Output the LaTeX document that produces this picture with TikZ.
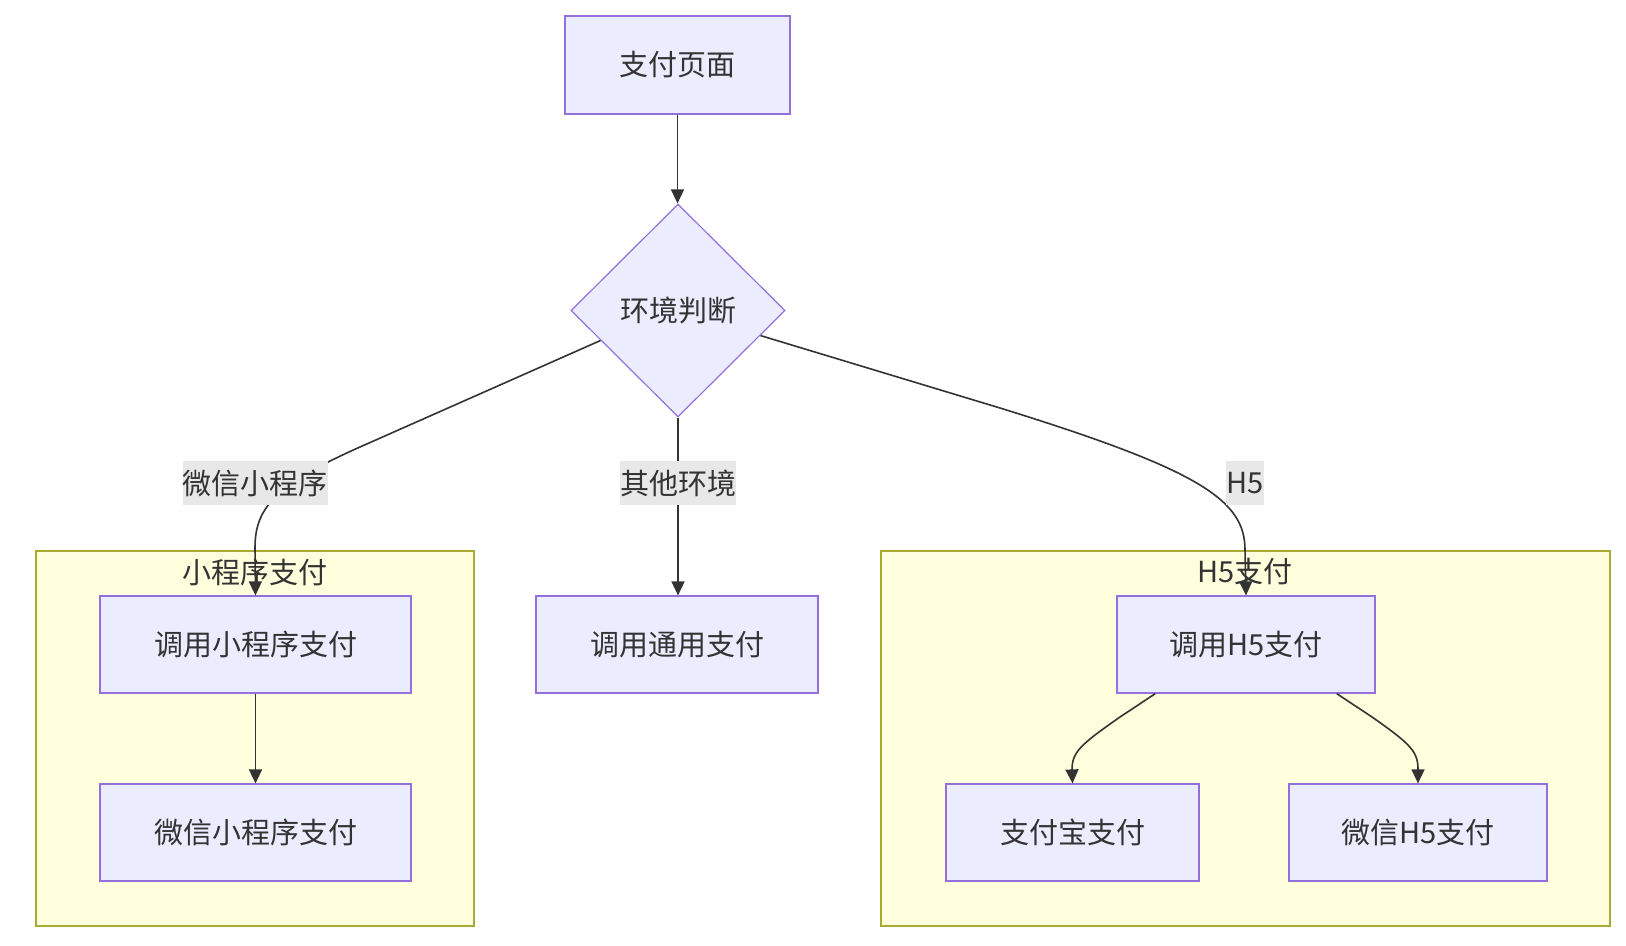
\documentclass[tikz,border=0pt]{standalone}
\usepackage{fontspec}
\setmainfont{Noto Sans CJK SC}
\usetikzlibrary{shapes.geometric,arrows.meta,calc}
\definecolor{nodefill}{HTML}{ECECFF}
\definecolor{nodeline}{HTML}{9370DB}
\definecolor{clfill}{HTML}{FFFFDE}
\definecolor{clline}{HTML}{AAAA33}
\definecolor{edgec}{HTML}{333333}
\definecolor{txt}{HTML}{333333}
\definecolor{lblbg}{HTML}{E8E8E8}
\begin{document}
\begin{tikzpicture}[x=0.5pt,y=-0.5pt,
  font=\fontsize{14.5}{17}\selectfont, text=txt,
  box/.style={draw=nodeline, fill=nodefill, line width=0.6pt, inner sep=0pt, minimum height=48.5pt},
  decision/.style={diamond, draw=nodeline, fill=nodefill, line width=0.6pt, inner sep=0pt, minimum width=107pt, minimum height=106.5pt},
  cluster/.style={draw=clline, fill=clfill, line width=0.6pt, inner sep=0pt},
  edgelabel/.style={fill=lblbg, inner sep=0pt, minimum height=21.75pt},
  cltitle/.style={inner sep=0pt},
  flow/.style={draw=edgec, line width=0.8pt, -{Triangle[length=7pt,width=6.5pt]}},
]
\useasboundingbox (0,0) rectangle (1626,946);
\fill[white] (0,0) rectangle (1626,946);

% clusters
\node[cluster, minimum width=219pt, minimum height=187.5pt] (clL) at (255,738.5) {};
\node[cluster, minimum width=364.5pt, minimum height=187.5pt] (clR) at (1245.5,738.5) {};
\node[cltitle] (tL) at (255,572) {小程序支付};
\node[cltitle] (tR) at (1245,572) {H5支付};

% nodes
\node[box, minimum width=112.5pt, minimum height=49pt] (A) at (677.5,65) {支付页面};
\node[decision] (B) at (678,310.5) {环境判断};
\node[box, minimum width=155.5pt] (C) at (255.5,644.5) {调用小程序支付};
\node[box, minimum width=155.5pt] (D) at (255.5,832.5) {微信小程序支付};
\node[box, minimum width=141pt] (E) at (677,644.5) {调用通用支付};
\node[box, minimum width=129pt] (F) at (1246,644.5) {调用H5支付};
\node[box, minimum width=126.5pt] (G) at (1072.5,832.5) {支付宝支付};
\node[box, minimum width=129pt] (H) at (1418,832.5) {微信H5支付};

% edges
\draw[flow] (A.south) -- (A.south |- B.north);
\draw[flow] ($(B.west)!0.28!(B.south)$) -- (360,447)
  .. controls (272,486) and (255,510) .. (255,548) -- (C.north);
\draw[flow] (B.south) -- (B.south |- E.north);
\draw[flow] ($(B.east)!0.234!(B.south)$) -- (1000,408)
  .. controls (1200,470) and (1245,500) .. (1245,550) -- (F.north);
\draw[flow] (C.south) -- (D.north);
\draw[flow] ($(F.south west)!0.15!(F.south east)$) -- (1120,717)
  .. controls (1080,745) and (1072,752) .. (1072,770) -- (G.north);
\draw[flow] ($(F.south west)!0.85!(F.south east)$) -- (1372,717)
  .. controls (1412,745) and (1418,752) .. (1418,770) -- (H.north);

% edge labels
\node[edgelabel] (l1) at (255,483) {微信小程序};
\node[edgelabel] (l2) at (678,483) {其他环境};
\node[edgelabel] (l3) at (1245,483) {H5};
\end{tikzpicture}
\end{document}
